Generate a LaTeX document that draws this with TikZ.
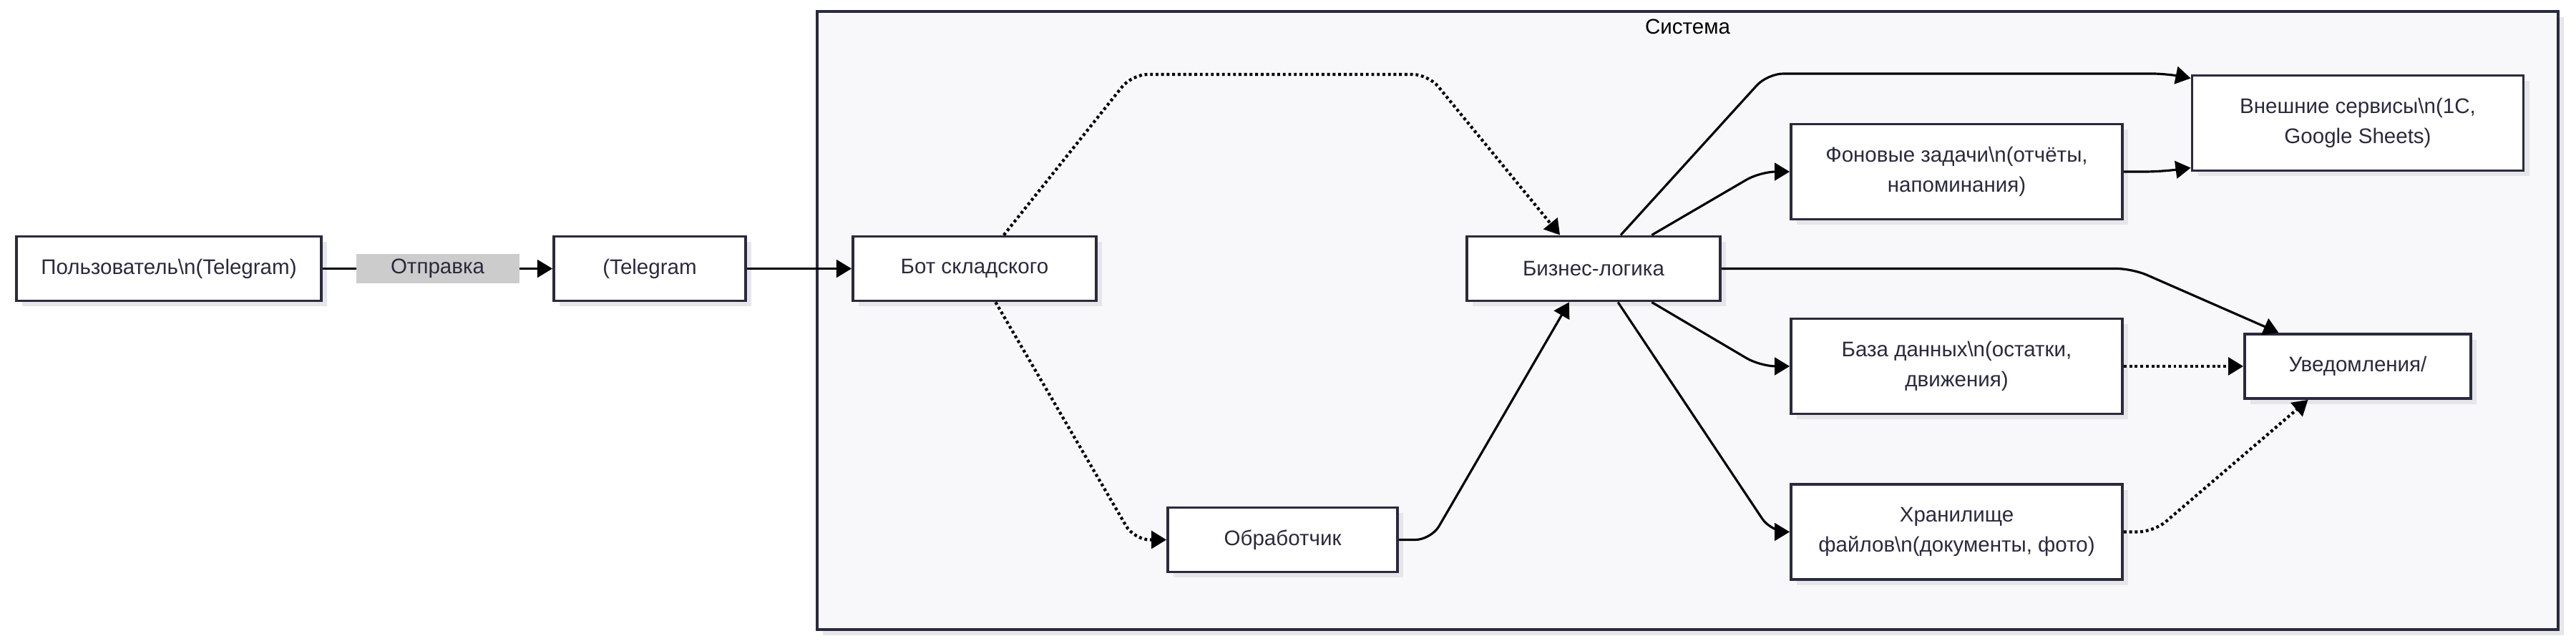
\documentclass[tikz,border=0pt]{standalone}
\usepackage{fontspec}
\setmainfont{Liberation Sans}
\usetikzlibrary{arrows.meta,shadows}

\definecolor{boxline}{HTML}{2A2A3E}
\definecolor{sysfill}{HTML}{F8F8FA}
\definecolor{shade}{HTML}{E6E6EA}
\definecolor{lblfill}{HTML}{CCCCCC}

\tikzstyle{block}=[rectangle,draw=boxline,line width=1.1pt,fill=white,text=boxline,align=center,inner sep=0pt,minimum height=0.9cm,drop shadow={shadow xshift=0.08cm,shadow yshift=-0.08cm,fill=shade,opacity=1}]
\tikzstyle{tall}=[block,minimum width=4.63cm,minimum height=1.33cm]
\tikzstyle{flow}=[draw,line width=0.9pt,rounded corners=0.22cm]
\tikzstyle{flowdot}=[flow,line width=1.2pt,dash pattern=on 1.1pt off 1.1pt]
\tikzstyle{lbl}=[sharp corners,fill=lblfill,text=boxline,minimum width=2.28cm,minimum height=0.41cm,inner sep=0pt]

\begin{document}
\begin{tikzpicture}[->, >={Triangle[length=6pt,width=7pt]}, font=\fontsize{8.4pt}{12pt}\selectfont]
		\useasboundingbox (0,0) rectangle (36,-8.96);
		\node [block,fill=sysfill,minimum width=24.33cm,minimum height=8.64cm] (sys) at (23.585,-4.48) {};
		\node []      (systitle) at (23.585,-0.37) {Система};
		\node [block,minimum width=4.26cm] (user)    at (2.36,-3.755)  {Пользователь\textbackslash n(Telegram)};
		\node [block,minimum width=2.68cm] (tg)      at (9.08,-3.755)  {(Telegram};
		\node [block,minimum width=3.40cm] (bot)     at (13.62,-3.755) {Бот складского};
		\node [block,minimum width=3.54cm] (biz)     at (22.27,-3.755) {Бизнес-логика};
		\node [block,minimum width=3.21cm] (handler) at (17.925,-7.545) {Обработчик};
		\node [tall]                       (jobs)    at (27.345,-2.40) {Фоновые задачи\textbackslash n(отчёты,\\напоминания)};
		\node [tall]                       (ext)     at (32.95,-1.72)  {Внешние сервисы\textbackslash n(1C,\\Google Sheets)};
		\node [tall]                       (db)      at (27.345,-5.12) {База данных\textbackslash n(остатки,\\движения)};
		\node [block,minimum width=3.16cm] (notif)   at (32.95,-5.12)  {Уведомления/};
		\node [tall]                       (store)   at (27.345,-7.435) {Хранилище\\файлов\textbackslash n(документы, фото)};

		% entry
		\draw [flow] (user) edge node[lbl] (send) {Отправка} (tg);
		\draw [flow] (tg) -- (bot);
		% inside the system
		\draw [flowdot] (bot.49) -- (15.82,-1.04) -- (19.96,-1.04) -- (biz.135);
		\draw [flowdot] (bot.-58) -- (15.85,-7.545) -- (handler.west);
		\draw [flow] (handler.east) -- (20.0,-7.545) -- (biz.-126);
		\draw [flow] (biz.51) -- (24.7,-1.03) -- (30.3,-1.03) -- (ext.165);
		\draw [flow] (biz.30) -- (24.6,-2.40) -- (jobs.west);
		\draw [flow] (jobs.east) -- (30.2,-2.40) -- (ext.-165);
		\draw [flow] (biz.east) -- (29.8,-3.755) -- (notif.157);
		\draw [flow] (biz.-30) -- (24.6,-5.12) -- (db.west);
		\draw [flow] (biz.-54) -- (24.75,-7.435) -- (store.west);
		\draw [flowdot] (db.east) -- (notif.west);
		\draw [flowdot] (store.east) -- (30.1,-7.435) -- (notif.-146);
	\end{tikzpicture}
\end{document}
